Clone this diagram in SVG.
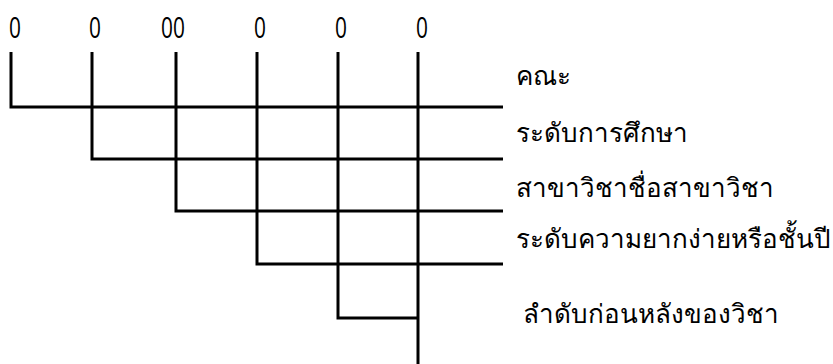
<svg xmlns="http://www.w3.org/2000/svg" width="833" height="364" viewBox="0 0 833 364">
<style>
.t{font-family:"Noto Sans","DejaVu Sans",sans-serif;font-size:26px;fill:#000}
.n{font-family:"Open Sans","Noto Sans",sans-serif;font-size:29px;fill:#000}
.c{stroke:#000;stroke-width:3;fill:none;stroke-linecap:butt}
</style>
<rect width="833" height="364" fill="#fff"/>
<g id="numbers">
<text class="n" transform="translate(9,38) scale(0.72,1)">0</text>
<text class="n" transform="translate(89,38) scale(0.72,1)">0</text>
<text class="n" transform="translate(161,38) scale(0.72,1)">00</text>
<text class="n" transform="translate(254,38) scale(0.72,1)">0</text>
<text class="n" transform="translate(335,38) scale(0.72,1)">0</text>
<text class="n" transform="translate(416,38) scale(0.72,1)">0</text>
</g>
<g id="connectors">
<path class="c" d="M11,52 V107 H503"/>
<path class="c" d="M92,52 V159 H503"/>
<path class="c" d="M176,52 V211 H503"/>
<path class="c" d="M257,52 V264 H503"/>
<path class="c" d="M338,52 V318 H418"/>
<path class="c" d="M418,52 V364"/>
</g>
<g id="labels">
<text class="t" x="516" y="85">คณะ</text>
<text class="t" x="516" y="142">ระดับการศึกษา</text>
<text class="t" x="516" y="197">สาขาวิชาชื่อสาขาวิชา</text>
<text class="t" x="516" y="248">ระดับความยากง่ายหรือชั้นปี</text>
<text class="t" x="523" y="323">ลำดับก่อนหลังของวิชา</text>
</g>
</svg>
